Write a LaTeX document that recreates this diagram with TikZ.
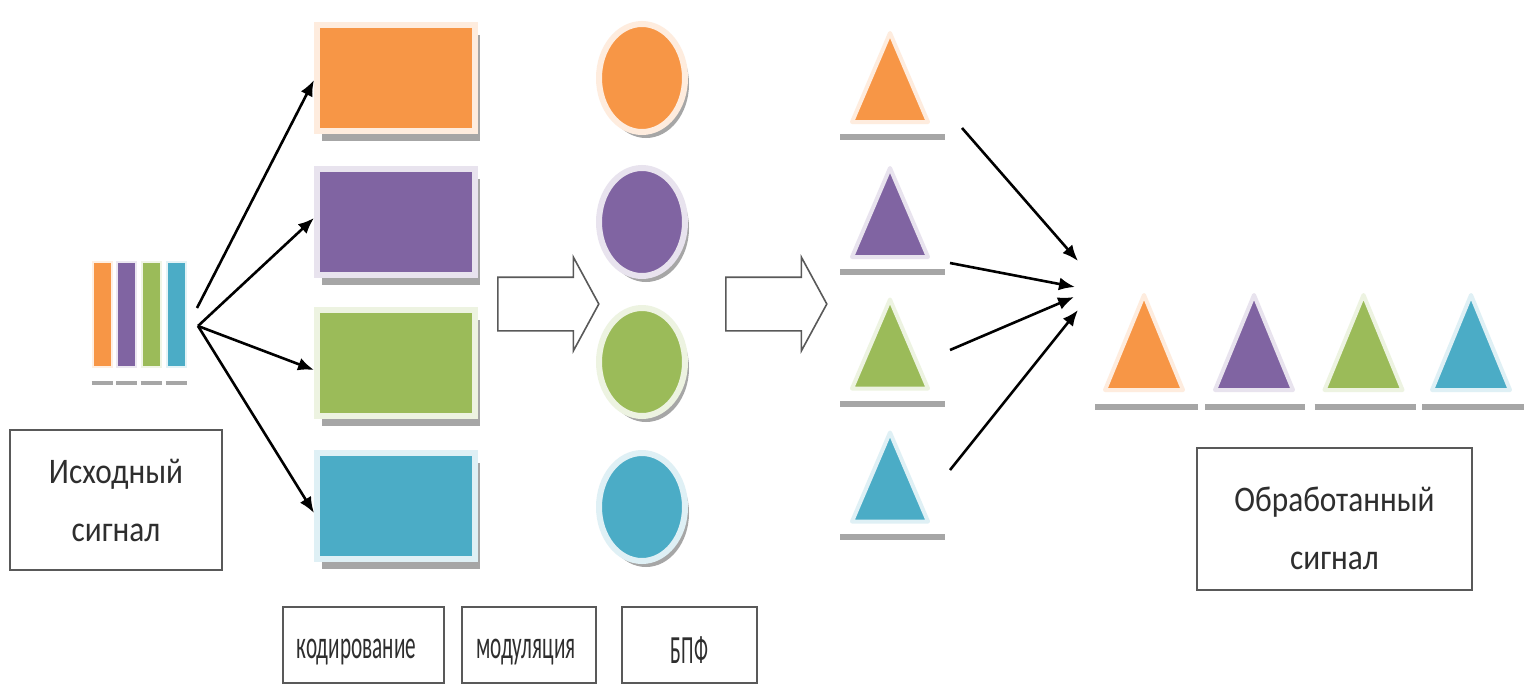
\documentclass[tikz,border=0pt]{standalone}
\usepackage{fontspec}
\setmainfont{Carlito}
\usetikzlibrary{shapes.geometric,shapes.arrows,shadows,calc,arrows.meta}
\definecolor{cOr}{HTML}{F79646}
\definecolor{cPu}{HTML}{8064A2}
\definecolor{cGr}{HTML}{9BBB59}
\definecolor{cBl}{HTML}{4BACC6}
\definecolor{shgray}{HTML}{A6A6A6}
\definecolor{boxgray}{HTML}{595959}
\definecolor{txtgray}{HTML}{2E2E2E}
\newcommand{\narrowtxt}[2]{\scalebox{#1}[1]{#2}}
\begin{document}
\begin{tikzpicture}[x=0.5pt,y=-0.5pt,
  colrect/.style={rectangle, minimum width=79pt, minimum height=53pt, inner sep=0pt, line width=3pt, fill=#1, draw=#1!18!white, drop shadow={shadow xshift=2.5pt, shadow yshift=-5pt, opacity=1, fill=shgray}},
  colcirc/.style={ellipse, minimum width=43pt, minimum height=54pt, inner sep=0pt, line width=3pt, fill=#1, draw=#1!18!white, drop shadow={shadow xshift=2pt, shadow yshift=-3pt, opacity=1, fill=shgray}},
  tribox/.style={rectangle, minimum width=38pt, minimum height=44.5pt, inner sep=0pt, outer sep=0pt},
  bigtribox/.style={rectangle, minimum width=39pt, minimum height=47.5pt, inner sep=0pt, outer sep=0pt},
  trifill/.style={fill=#1, draw=#1!18!white, line width=2pt, line join=round},
  bar/.style={rectangle, minimum width=9.5pt, minimum height=52.5pt, inner sep=0pt, line width=1pt, fill=#1, draw=#1!15!white},
  lbox/.style={rectangle, draw=boxgray, line width=1pt, fill=white, inner sep=0pt},
  bigtxt/.style={text=txtgray, inner sep=0pt, align=center, font=\fontsize{18}{29}\selectfont},
  smalltxt/.style={text=txtgray, inner sep=0pt, align=center, font=\fontsize{20}{24}\selectfont},
  conn/.style={-{Latex[length=8pt,width=6.5pt]}, line width=1.3pt, black},
  blockarrow/.style={single arrow, draw=boxgray, line width=0.8pt, fill=white, minimum height=50.5pt, single arrow head extend=10pt, single arrow tip angle=123, inner xsep=0pt, inner ysep=13pt},
  greyline/.style={shgray, line width=3pt}
]
\useasboundingbox (0,0) rectangle (1524,686);
\fill[white] (0,0) rectangle (1524,686);

% source bars
\node[bar=cOr] (b1) at (102,314.5) {};
\node[bar=cPu] (b2) at (126.5,314.5) {};
\node[bar=cGr] (b3) at (151,314.5) {};
\node[bar=cBl] (b4) at (176,314.5) {};
\foreach \b in {b1,b2,b3,b4}{
  \draw[shgray, line width=2pt] ($(\b.south west)+(0,15)$) -- ($(\b.south east)+(0,15)$);
}

% coding rectangles
\node[colrect=cOr] (r1) at (396,78) {};
\node[colrect=cPu] (r2) at (396,222) {};
\node[colrect=cGr] (r3) at (396,363) {};
\node[colrect=cBl] (r4) at (396,506) {};

% modulation circles
\node[colcirc=cOr] (c1) at (642,78) {};
\node[colcirc=cPu] (c2) at (642,222) {};
\node[colcirc=cGr] (c3) at (642,362) {};
\node[colcirc=cBl] (c4) at (642,507) {};

% block arrows
\node[blockarrow, anchor=tail] (ba1) at (497,304) {};
\node[blockarrow, anchor=tail] (ba2) at (725,304) {};

% FFT triangles
\node[tribox] (t1) at (890,77.5) {};
\node[tribox] (t2) at (890,212.5) {};
\node[tribox] (t3) at (890,344) {};
\node[tribox] (t4) at (890,477) {};
\foreach \t/\c in {t1/cOr,t2/cPu,t3/cGr,t4/cBl}{
  \filldraw[trifill=\c] (\t.south west) -- (\t.south east) -- (\t.north) -- cycle;
  \draw[greyline] ($(\t.south west)+(-12,15)$) -- ($(\t.south east)+(17,15)$);
}

% output triangles
\node[bigtribox] (o1) at (1144,342.5) {};
\node[bigtribox] (o2) at (1254,342.5) {};
\node[bigtribox] (o3) at (1363.5,342.5) {};
\node[bigtribox] (o4) at (1471,342.5) {};
\foreach \t/\c in {o1/cOr,o2/cPu,o3/cGr,o4/cBl}{
  \filldraw[trifill=\c] (\t.south west) -- (\t.south east) -- (\t.north) -- cycle;
}
\draw[greyline] ($(o1.south west)+(-10,17)$) -- ($(o1.south east)+(15,17)$);
\draw[greyline] ($(o2.south west)+(-10,17)$) -- ($(o2.south east)+(12,17)$);
\draw[greyline] ($(o3.south west)+(-10,17)$) -- ($(o3.south east)+(13,17)$);
\draw[greyline] ($(o4.south west)+(-10,17)$) -- ($(o4.south east)+(14,17)$);

% label boxes
\node[lbox, minimum width=106pt, minimum height=70pt] (srcbox) at (116,500) {};
\node[bigtxt] (srctxt) at (srcbox.center)
  {\narrowtxt{0.87}{Исходный}\\\narrowtxt{0.87}{сигнал}};
\node[lbox, minimum width=137.5pt, minimum height=71pt] (outbox) at (1334.5,519) {};
\node[bigtxt] (outtxt) at ($(outbox.center)+(0,9)$)
  {\narrowtxt{0.87}{Обработанный}\\\narrowtxt{0.87}{сигнал}};
\node[lbox, minimum width=80.5pt, minimum height=38pt] (code) at (363.5,645) {};
\node[smalltxt] (codetxt) at ($(code.center)+(-7,7)$) {\narrowtxt{0.53}{кодирование}};
\node[lbox, minimum width=67pt, minimum height=38pt] (modl) at (529,645) {};
\node[smalltxt] (modltxt) at ($(modl.center)+(-3,7)$) {\narrowtxt{0.53}{модуляция}};
\node[lbox, minimum width=67.5pt, minimum height=38pt] (fft) at (689.5,645) {};
\node[smalltxt] (ffttxt) at ($(fft.center)+(0,5)$) {\narrowtxt{0.5}{БПФ}};

% fan-out arrows
\coordinate (srcA) at (197,308);
\coordinate (srcB) at (198,326);
\draw[conn] (srcA) -- ($(r1.west)+(0,2)$);
\draw[conn] (srcB) -- ($(r2.west)+(0,-4)$);
\draw[conn] (srcB) -- ($(r3.west)+(0,7)$);
\draw[conn] (srcB) -- ($(r4.west)+(0,7)$);

% fan-in arrows
\coordinate (m1) at (1078,261);
\coordinate (m2) at (1075,287);
\coordinate (m3) at (1074,297);
\coordinate (m4) at (1078,310);
\draw[conn] ($(t1.south east)+(34,6)$) -- (m1);
\draw[conn] ($(t2.south east)+(22,6)$) -- (m2);
\draw[conn] ($(t3.center)+(60,6)$) -- (m3);
\draw[conn] ($(t4.center)+(60,-7)$) -- (m4);
\end{tikzpicture}
\end{document}
